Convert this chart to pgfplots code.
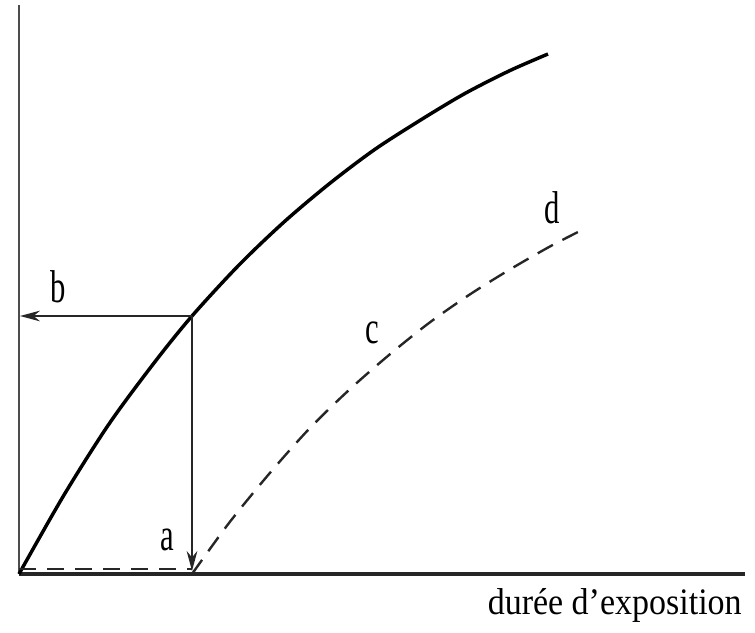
\documentclass[border=0pt]{standalone}
\usepackage{fontspec}
\setmainfont{Liberation Serif}
\usepackage{graphicx}
\usepackage{pgfplots}
\pgfplotsset{compat=1.18}
\usetikzlibrary{arrows.meta}
\newcommand{\tall}[1]{\scalebox{1}[1.5]{#1}}
\begin{document}
\begin{tikzpicture}
\begin{axis}[
    scale only axis,
    x=0.75pt, y=0.75pt,
    xmin=0, xmax=726,
    ymin=0, ymax=569,
    axis lines=left,
    x axis line style={-, line width=2.6pt, black!85},
    y axis line style={-, line width=1.5pt, black!70},
    xtick=\empty, ytick=\empty,
    clip=false,
]
% solid curve
\addplot[black, line width=2.6pt, smooth] coordinates {
    (0,0) (45,79) (90,150) (135,211) (173,258) (220,309) (265,352) (310,390)
    (355,424) (400,453) (445,480) (490,503) (529,520)
};
% dashed curve
\addplot[black!85, line width=1.8pt, dash pattern=on 13pt off 8pt, smooth] coordinates {
    (173,0) (210,51) (250,100) (290,145) (330,184) (370,219) (410,251)
    (450,279) (490,304) (530,327) (559,342)
};
% dashed baseline
\addplot[black!85, line width=1.8pt, dash pattern=on 13pt off 8pt] coordinates {
    (0,5) (173,5)
};
% arrows
\addplot[black!85, line width=1.6pt, -{Stealth[length=15pt,width=8pt]}] coordinates {
    (173,258) (173,3)
};
\addplot[black!85, line width=1.6pt, -{Stealth[length=15pt,width=8pt]}] coordinates {
    (173,258) (1,258)
};
\node[font=\fontsize{23}{25}\selectfont] at (axis cs:148,34) {\tall{a}};
\node[font=\fontsize{23}{25}\selectfont] at (axis cs:39,287) {\tall{b}};
\node[font=\fontsize{23}{25}\selectfont] at (axis cs:353,241) {\tall{c}};
\node[font=\fontsize{23}{25}\selectfont] at (axis cs:533,366) {\tall{d}};
\node[anchor=east, font=\fontsize{25.5}{27}\selectfont, inner sep=0pt] at (axis cs:723,-31) {\scalebox{1}[1.1]{durée d’exposition}};
\path (axis cs:-19,-58) rectangle (axis cs:736,574);
\end{axis}
\end{tikzpicture}
\end{document}
